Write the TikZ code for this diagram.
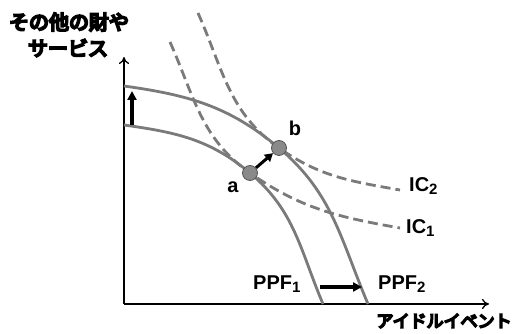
\documentclass[tikz,border=0pt]{standalone}
\usepackage{fontspec}
\setmainfont{Liberation Sans}
\newfontfamily\jpfont{Noto Sans CJK JP}[FakeBold=10]
\usetikzlibrary{arrows.meta}
\definecolor{curvegray}{HTML}{7A7A7A}
\definecolor{dotgray}{HTML}{8A8A8A}
\begin{document}
\begin{tikzpicture}[x=1pt,y=1pt,
  axis/.style={line width=1.3pt,-{To[length=7pt,width=10pt]}},
  ppf/.style={curvegray,line width=2.8pt},
  ic/.style={curvegray,line width=2.8pt,dash pattern=on 10pt off 5pt},
  movearrow/.style={black,line width=3.2pt,-{Triangle[length=9pt,width=9pt]}},
  dot/.style={circle,fill=dotgray,draw=curvegray!70!black,line width=0.8pt,minimum size=15pt,inner sep=0pt},
  lbl/.style={font=\bfseries\fontsize{20}{20}\selectfont,inner sep=0pt},
  jp/.style={inner sep=0pt}]
\useasboundingbox (0,0) rectangle (517,334);
% axes
\coordinate (O) at (124,30);
\coordinate (ytip) at (124,277);
\coordinate (xtip) at (489,30);
\draw[axis] (O) -- (ytip);
\draw[axis] (O) -- (xtip);
% points
\coordinate (pa) at (250,161);
\coordinate (pb) at (279,186);
\coordinate (p1s) at (124,209);
\coordinate (p1e) at (323,30);
\coordinate (p2s) at (124,248);
\coordinate (p2e) at (368,30);
\coordinate (i1s) at (170,292);
\coordinate (i1e) at (400,106);
\coordinate (i2s) at (198,321);
\coordinate (i2e) at (400,144);
% PPF curves
\draw[ppf] (p1s) to[out=-8,in=140] (pa) to[out=-40,in=113] (p1e);
\draw[ppf] (p2s) to[out=-8,in=140] (pb) to[out=-40,in=113] (p2e);
% IC curves
\draw[ic] (i1s) to[out=-66,in=145] (pa) to[out=-35,in=170] (i1e);
\draw[ic] (i2s) to[out=-66,in=145] (pb) to[out=-35,in=170] (i2e);
% dots
\node[dot] (a) at (pa) {};
\node[dot] (b) at (pb) {};
% shift arrows
\coordinate (v1) at (132,209);
\coordinate (v2) at (132,243);
\draw[movearrow] (v1) -- (v2);
\coordinate (h1) at (320,47);
\coordinate (h2) at (362,47);
\draw[movearrow] (h1) -- (h2);
\draw[black,line width=3pt,-{Triangle[length=8pt,width=9pt]}] (a) -- (b);
% labels
\node[lbl] (la) at (233,147) {a};
\node[lbl] (lb) at (295,206) {b};
\node[lbl,anchor=west] (ic2) at (409,148) {IC\textsubscript{\fontsize{15}{15}\selectfont 2}};
\node[lbl,anchor=west] (ic1) at (406,106) {IC\textsubscript{\fontsize{15}{15}\selectfont 1}};
\node[lbl,anchor=west] (ppf1) at (253,50) {PPF\textsubscript{\fontsize{15}{15}\selectfont 1}};
\node[lbl,anchor=west] (ppf2) at (378,50) {PPF\textsubscript{\fontsize{15}{15}\selectfont 2}};
\node[jp,font=\jpfont\fontsize{17}{17}\selectfont] (xl) at (444,13) {アイドルイベント};
\node[jp,font=\jpfont\fontsize{20}{20}\selectfont] (yl1) at (69,312) {その他の財や};
\node[jp,font=\jpfont\fontsize{20}{20}\selectfont] (yl2) at (68,286) {サービス};
\end{tikzpicture}
\end{document}
